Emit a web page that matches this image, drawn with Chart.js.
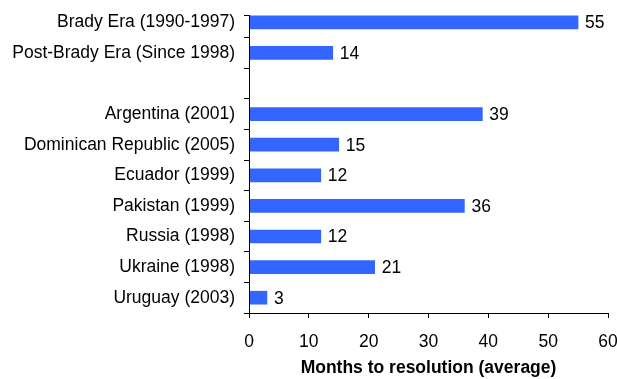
<!DOCTYPE html>
<html>
<head>
<meta charset="utf-8">
<script src="https://cdn.jsdelivr.net/npm/chart.js@4/dist/chart.umd.min.js"></script>
<style>
  html, body { margin: 0; padding: 0; background: #fff; }
  #wrap { width: 617px; height: 379px; position: relative; }
</style>
</head>
<body>
<div id="wrap"><canvas id="c"></canvas></div>
<script>
// Restructuring episodes and average months to resolution
const categories = [
  'Brady Era (1990-1997)',
  'Post-Brady Era (Since 1998)',
  '',
  'Argentina (2001)',
  'Dominican Republic (2005)',
  'Ecuador (1999)',
  'Pakistan (1999)',
  'Russia (1998)',
  'Ukraine (1998)',
  'Uruguay (2003)'
];
const months = [55, 14, null, 39, 15, 12, 36, 12, 21, 3];
const xTicks = [0, 10, 20, 30, 40, 50, 60];
const axisTitle = 'Months to resolution (average)';

const FONT = '"Liberation Sans", Arial, sans-serif';
const SIZE = 17.5;
const BAR = 'rgb(51,102,255)';

// Value labels at the end of each bar, plus the vertical axis line
const decorations = {
  id: 'decorations',
  afterDatasetsDraw(chart) {
    const ctx = chart.ctx;
    const meta = chart.getDatasetMeta(0);
    const ds = chart.data.datasets[0];
    ctx.save();
    ctx.font = SIZE + 'px ' + FONT;
    ctx.fillStyle = '#000';
    ctx.textBaseline = 'middle';
    ctx.textAlign = 'left';
    meta.data.forEach((bar, i) => {
      const v = ds.data[i];
      if (v === null || v === undefined) return;
      ctx.fillText(String(v), bar.x + 7, bar.y + 1);
    });

    // vertical axis line, starting a little above the first bar
    const y = chart.scales.y;
    const x = chart.scales.x;
    const top = Math.round(y.getPixelForValue(0) - 7);
    const left = Math.round(x.getPixelForValue(0));
    ctx.strokeStyle = '#000';
    ctx.lineWidth = 1;
    ctx.beginPath();
    ctx.moveTo(left + 0.5, top);
    ctx.lineTo(left + 0.5, chart.chartArea.bottom);
    ctx.moveTo(left - 5, top + 0.5);
    ctx.lineTo(left + 0.5, top + 0.5);
    ctx.stroke();
    ctx.restore();
  }
};

new Chart(document.getElementById('c'), {
  type: 'bar',
  data: {
    labels: categories,
    datasets: [{
      data: months,
      backgroundColor: BAR,
      borderWidth: 0,
      barThickness: 13
    }]
  },
  options: {
    indexAxis: 'y',
    responsive: true,
    maintainAspectRatio: false,
    animation: false,
    devicePixelRatio: 1,
    layout: { padding: { top: 7, right: 9, left: 0, bottom: 0 } },
    plugins: {
      legend: { display: false },
      tooltip: { enabled: false }
    },
    scales: {
      x: {
        type: 'linear',
        min: 0,
        max: 60,
        afterBuildTicks(scale) {
          scale.ticks = xTicks.map(v => ({ value: v }));
        },
        ticks: {
          font: { family: FONT, size: SIZE },
          color: '#000',
          padding: 14,
          maxRotation: 0
        },
        grid: {
          drawOnChartArea: false,
          drawTicks: true,
          tickLength: 5,
          color: '#000'
        },
        border: { display: true, color: '#000', width: 1 },
        title: {
          display: true,
          text: axisTitle,
          font: { family: FONT, size: SIZE, weight: 'bold' },
          color: '#000',
          padding: { top: 4, bottom: 0 }
        },
        afterFit(scale) {
          scale.height = 66;
          scale.paddingLeft = 0;
          scale.paddingRight = 0;
        }
      },
      y: {
        type: 'category',
        offset: true,
        ticks: {
          font: { family: FONT, size: SIZE },
          color: '#000',
          padding: 9,
          autoSkip: false
        },
        grid: {
          offset: true,
          drawOnChartArea: false,
          drawTicks: true,
          tickLength: 5,
          color: (c) => (c.index === 0 ? 'rgba(0,0,0,0)' : '#000')
        },
        border: { display: false },
        afterFit(scale) {
          scale.width = 249;
          scale.paddingTop = 0;
          scale.paddingBottom = 0;
        }
      }
    }
  },
  plugins: [decorations]
});
</script>
</body>
</html>
